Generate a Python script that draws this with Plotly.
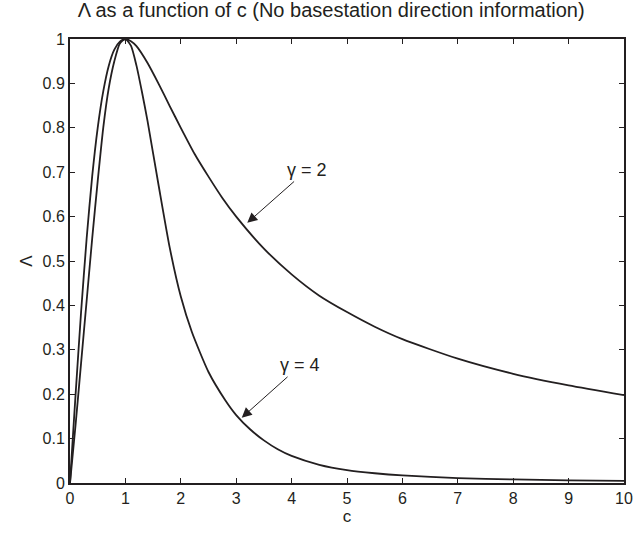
import plotly.graph_objects as go

# gamma = 2 curve
c_g2 = [0, 0.05, 0.1, 0.2, 0.3, 0.4, 0.5, 0.6, 0.7, 0.8, 0.9, 1.0, 1.1, 1.2, 1.4, 1.6, 1.8, 2.0,
        2.25, 2.5, 2.75, 3.0, 3.5, 4.0, 4.5, 5.0, 5.5, 6.0, 7.0, 8.0, 9.0, 10.0]
lam_g2 = [0, 0.10, 0.198, 0.385, 0.55, 0.69, 0.80, 0.882, 0.94, 0.976, 0.994, 1.0, 0.995, 0.984,
          0.946, 0.899, 0.849, 0.80, 0.741, 0.69, 0.642, 0.60, 0.528, 0.47, 0.422, 0.385, 0.352,
          0.324, 0.28, 0.246, 0.22, 0.198]

# gamma = 4 curve
c_g4 = [0, 0.1, 0.2, 0.3, 0.4, 0.5, 0.6, 0.7, 0.8, 0.9, 1.0, 1.1, 1.2, 1.3, 1.4, 1.6, 1.8, 2.0,
        2.2, 2.5, 2.8, 3.0, 3.25, 3.5, 3.75, 4.0, 4.5, 5.0, 5.5, 6.0, 7.0, 8.0, 9.0, 10.0]
lam_g4 = [0, 0.13, 0.27, 0.41, 0.55, 0.68, 0.80, 0.89, 0.95, 0.99, 1.0, 0.985, 0.94, 0.88, 0.815,
          0.67, 0.53, 0.42, 0.34, 0.25, 0.187, 0.153, 0.121, 0.096, 0.076, 0.061, 0.041, 0.029,
          0.022, 0.017, 0.011, 0.008, 0.006, 0.005]

x_ticks = list(range(0, 11))
y_ticks = [round(0.1 * i, 1) for i in range(11)]
y_tick_text = ["0", "0.1", "0.2", "0.3", "0.4", "0.5", "0.6", "0.7", "0.8", "0.9", "1"]

line_color = "#231f20"
font_fam = "Liberation Sans, Arial, sans-serif"

fig = go.Figure()
fig.add_trace(go.Scatter(x=c_g2, y=lam_g2, mode="lines", line=dict(color=line_color, width=1.8, shape="spline", smoothing=0.6), showlegend=False))
fig.add_trace(go.Scatter(x=c_g4, y=lam_g4, mode="lines", line=dict(color=line_color, width=1.8, shape="spline", smoothing=0.6), showlegend=False))

fig.add_annotation(x=3.2, y=0.586, ax=4.28, ay=0.705, axref="x", ayref="y", xref="x", yref="y",
                   text="γ = 2", showarrow=True, arrowhead=2, arrowsize=2, arrowwidth=1,
                   arrowcolor=line_color, font=dict(size=18, color=line_color, family=font_fam))
fig.add_annotation(x=3.1, y=0.147, ax=4.16, ay=0.265, axref="x", ayref="y", xref="x", yref="y",
                   text="γ = 4", showarrow=True, arrowhead=2, arrowsize=2, arrowwidth=1,
                   arrowcolor=line_color, font=dict(size=18, color=line_color, family=font_fam))

axis_common = dict(showline=True, linecolor=line_color, linewidth=2, mirror="ticks",
                   ticks="inside", ticklen=5, tickwidth=1, tickcolor=line_color,
                   showgrid=False, zeroline=False,
                   tickfont=dict(size=16, color=line_color, family=font_fam))

fig.update_xaxes(range=[0, 10], tickvals=x_ticks,
                 title=dict(text="c", font=dict(size=17, color=line_color, family=font_fam), standoff=4),
                 **axis_common)
fig.update_yaxes(range=[0, 1], tickvals=y_ticks, ticktext=y_tick_text,
                 title=dict(text="Λ", font=dict(size=17, color=line_color, family=font_fam), standoff=6),
                 **axis_common)

fig.update_layout(
    width=643, height=536,
    margin=dict(l=70, r=10, t=39, b=53),
    plot_bgcolor="white", paper_bgcolor="white",
    title=dict(text="Λ as a function of c (No basestation direction information)",
               x=0.515, xanchor="center", y=0.994, yanchor="top",
               font=dict(size=20, color=line_color, family=font_fam)),
)

fig.write_html("out.html")
